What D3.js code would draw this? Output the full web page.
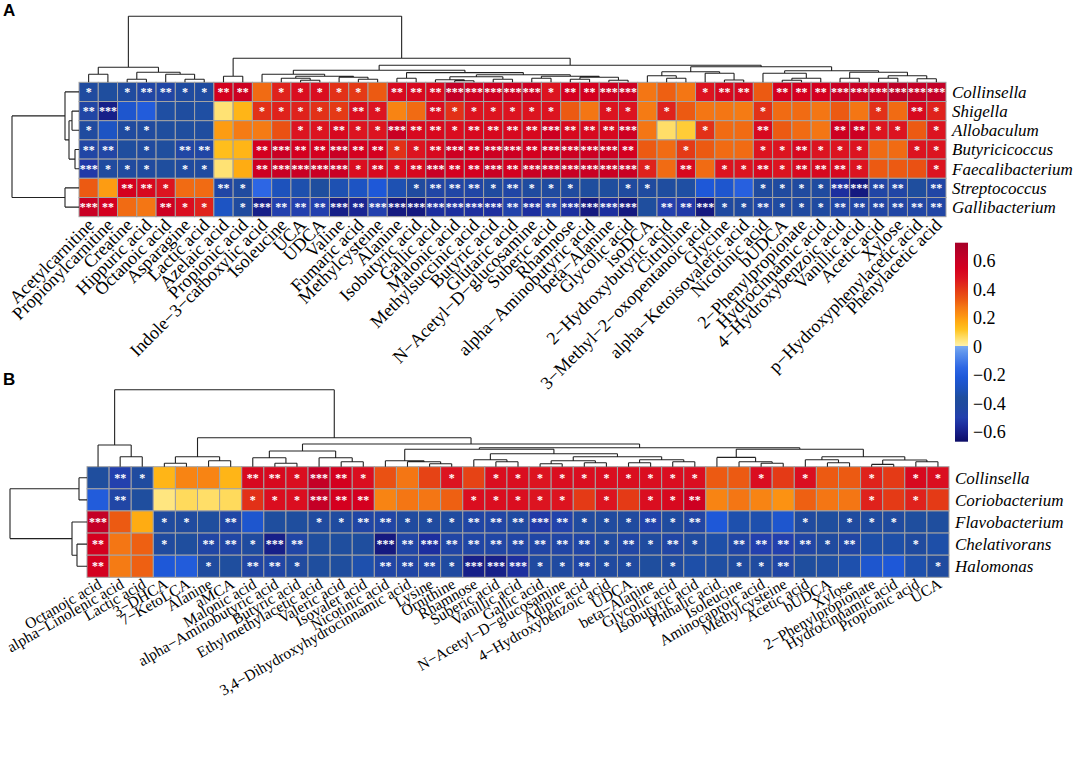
<!DOCTYPE html>
<html><head><meta charset="utf-8">
<script src="https://cdn.jsdelivr.net/npm/d3@7"></script>
<style>body{margin:0;background:#fff}svg{display:block}</style>
</head><body>
<svg id="c" width="1084" height="772"></svg>
<script>
// ---------- DATA ----------
const rowsA = ["Collinsella","Shigella","Allobaculum","Butyricicoccus","Faecalibacterium","Streptococcus","Gallibacterium"];
const colsA = ["Acetylcarnitine","Propionylcarnitine","Creatine","Hippuric acid","Octanoic acid","Asparagine","Lactic acid","Azelaic acid","Propionic acid","Indole\u22123\u2212carboxylic acid","Isoleucine","UCA","UDCA","Valine","Fumaric acid","Methylcysteine","Alanine","Isobutyric acid","Gallic acid","Malonic acid","Methylsuccinic acid","Butyric acid","Glutaric acid","N\u2212Acetyl\u2212D\u2212glucosamine","Suberic acid","Rhamnose","alpha\u2212Aminobutyric acid","beta\u2212Alanine","Glycolic acid","isoDCA","2\u2212Hydroxybutyric acid","Citrulline","3\u2212Methyl\u22122\u2212oxopentanoic acid","Glycine","alpha\u2212Ketoisovaleric acid","Nicotinic acid","bUDCA","2\u2212Phenylpropionate","Hydrocinnamic acid","4\u2212Hydroxybenzoic acid","Vanillic acid","Acetic acid","Xylose","p\u2212Hydroxyphenylacetic acid","Phenylacetic acid"];
const valuesA = [
 [-0.40,-0.36,-0.40,-0.45,-0.45,-0.40,-0.40,0.55,0.58,0.30, 0.45,0.50,0.50,0.42,0.40,0.33,0.52,0.52,0.52,0.62, 0.58,0.58,0.58,0.58,0.48,0.55,0.55,0.58,0.58,0.28, 0.32,0.28,0.48,0.52,0.52,0.33,0.55,0.55,0.55,0.60, 0.60,0.60,0.65,0.62,0.62],
 [-0.45,-0.60,-0.25,-0.20,-0.35,-0.38,-0.35,0.05,0.15,0.42, 0.45,0.45,0.42,0.40,0.50,0.48,0.25,0.30,0.50,0.42, 0.48,0.48,0.48,0.48,0.48,0.33,0.28,0.48,0.48,0.27, 0.45,0.33,0.28,0.28,0.27,0.42,0.30,0.30,0.28,0.33, 0.28,0.42,0.30,0.52,0.45],
 [-0.40,-0.28,-0.40,-0.40,-0.36,-0.36,-0.38,0.20,0.27,0.27, 0.35,0.48,0.48,0.52,0.48,0.48,0.60,0.52,0.52,0.50, 0.52,0.52,0.52,0.52,0.58,0.52,0.52,0.52,0.58,0.28, 0.06,0.10,0.42,0.30,0.30,0.52,0.33,0.30,0.28,0.58, 0.58,0.48,0.48,0.33,0.48],
 [-0.45,-0.45,-0.36,-0.40,-0.36,-0.45,-0.45,0.13,0.15,0.55, 0.60,0.55,0.55,0.60,0.55,0.55,0.42,0.48,0.52,0.58, 0.55,0.58,0.58,0.55,0.58,0.58,0.58,0.58,0.55,0.33, 0.30,0.40,0.33,0.30,0.30,0.48,0.48,0.52,0.48,0.48, 0.48,0.30,0.30,0.48,0.48],
 [-0.52,-0.40,-0.40,-0.40,-0.36,-0.40,-0.40,0.05,0.17,0.58, 0.60,0.60,0.60,0.60,0.50,0.52,0.50,0.52,0.60,0.55, 0.55,0.60,0.55,0.60,0.60,0.60,0.60,0.60,0.60,0.45, 0.30,0.52,0.30,0.48,0.48,0.52,0.48,0.52,0.52,0.52, 0.48,0.33,0.33,0.35,0.48],
 [0.33,0.20,0.55,0.52,0.48,0.30,0.30,-0.45,-0.40,-0.15, -0.30,-0.33,-0.36,-0.32,-0.28,-0.22,-0.32,-0.40,-0.45,-0.45, -0.45,-0.40,-0.45,-0.40,-0.40,-0.40,-0.36,-0.36,-0.40,-0.40, -0.38,-0.35,-0.22,-0.25,-0.18,-0.40,-0.40,-0.40,-0.40,-0.55, -0.62,-0.45,-0.45,-0.36,-0.45],
 [0.60,0.55,0.30,0.28,0.58,0.50,0.45,-0.28,-0.40,-0.60, -0.50,-0.50,-0.50,-0.60,-0.58,-0.50,-0.62,-0.62,-0.55,-0.55, -0.55,-0.55,-0.48,-0.55,-0.48,-0.55,-0.62,-0.55,-0.62,-0.36, -0.50,-0.52,-0.62,-0.42,-0.42,-0.45,-0.42,-0.42,-0.42,-0.45, -0.45,-0.45,-0.45,-0.45,-0.45]
];
const starsA = [
 [1,0,1,2,2,1,1,2,2,0, 1,1,1,1,1,0,2,2,2,3, 3,3,3,3,1,2,2,3,3,0, 0,0,1,2,2,0,2,2,2,3, 3,3,3,3,3],
 [2,3,0,0,0,0,0,0,0,1, 1,1,1,1,2,1,0,0,2,1, 1,1,1,1,1,0,0,1,1,0, 1,0,0,0,0,1,0,0,0,0, 0,1,0,2,1],
 [1,0,1,1,0,0,0,0,0,0, 0,1,1,2,1,1,3,2,2,1, 2,2,2,2,3,2,2,2,3,0, 0,0,1,0,0,2,0,0,0,2, 2,1,1,0,1],
 [2,2,0,1,0,2,2,0,0,2, 3,2,2,3,2,2,1,1,2,3, 2,3,3,2,3,3,3,3,2,0, 0,1,0,0,0,1,1,2,1,1, 1,0,0,1,1],
 [3,1,1,1,0,1,1,0,0,2, 3,3,3,3,1,2,1,2,3,2, 2,3,2,3,3,3,3,3,3,1, 0,2,0,1,1,2,1,2,2,2, 1,0,0,0,1],
 [0,0,2,2,1,0,0,2,1,0, 0,0,0,0,0,0,0,1,2,2, 2,1,2,1,1,1,0,0,1,1, 0,0,0,0,0,1,1,1,1,3, 3,2,2,0,2],
 [3,2,0,0,2,1,1,0,1,3, 2,2,2,3,2,3,3,3,3,3, 3,3,2,3,2,3,3,3,3,0, 2,2,3,1,1,2,1,1,1,2, 2,2,2,2,2]
];
// dendrogram merges: [height, left, right], leaves = index
const colTreeA = [66,
  [15, [8,0,1], [10, [3,2,3], [8,4,[3,5,6]]]],
  [24, [6,7,8],
    [17,
      [12,
        [8, 9, [6, [4,10,[2,11,12]], [5,13,[3,14,15]]]],
        [9.7, [4,16,17],
          [7.5, [5.5, [2.5,18,[1.5,19,20]], [3,21,22]],
                [6, [4,23,24], [5, [3,25,26], [2,27,28]]]]]],
      [15.6,
        [10.6, [6.6,29,[4,30,31]], [9,32,[2.3,33,34]]],
        [11.5, [9,35,[4,[2,36,37],38]], [10,[4,39,40],[6.5,[4,41,42],[3.5,43,44]]]]]]]];
const rowTreeA = [67, [14, 0, [10, [7,1,2], [4,3,4]]], [14, 5, 6]];

const rowsB = ["Collinsella","Coriobacterium","Flavobacterium","Chelativorans","Halomonas"];
const colsB = ["Octanoic acid","alpha\u2212Linolenic acid","Lactic acid","3\u2212DHCA","7\u2212KetoLCA","Alanine","aMCA","Malonic acid","alpha\u2212Aminobutyric acid","Butyric acid","Ethylmethylacetic acid","Valeric acid","Isovaler acid","Nicotinic acid","3,4\u2212Dihydroxyhydrocinnamic acid","Lysine","Ornithine","Rhamnose","Suberic acid","Vanillic acid","Gallic acid","N\u2212Acetyl\u2212D\u2212glucosamine","Adipic acid","4\u2212Hydroxybenzoic acid","UDCA","beta\u2212Alanine","Glycolic acid","Isobutyric acid","Phthalic acid","Isoleucine","Aminocaproic acid","Methylcysteine","Acetic acid","bUDCA","Xylose","2\u2212Phenylpropionate","Hydrocinnamic acid","Propionic acid","UCA"];
const valuesB = [
 [-0.36,-0.50,-0.40,0.15,0.25,0.25,0.15,0.52,0.52,0.50, 0.62,0.55,0.50,0.35,0.28,0.38,0.48,0.38,0.50,0.50, 0.48,0.50,0.50,0.50,0.50,0.50,0.50,0.50,0.33,0.33, 0.50,0.40,0.50,0.33,0.33,0.45,0.40,0.52,0.50],
 [-0.20,-0.45,-0.36,0.04,0.07,0.06,0.07,0.42,0.50,0.50, 0.62,0.55,0.55,0.25,0.28,0.28,0.32,0.50,0.50,0.50, 0.48,0.48,0.40,0.48,0.40,0.50,0.52,0.58,0.25,0.28, 0.25,0.22,0.32,0.28,0.28,0.45,0.40,0.45,0.40],
 [0.62,0.33,0.17,-0.40,-0.40,-0.36,-0.45,-0.25,-0.36,-0.36, -0.40,-0.40,-0.45,-0.45,-0.40,-0.40,-0.40,-0.45,-0.45,-0.42, -0.52,-0.48,-0.40,-0.40,-0.40,-0.48,-0.40,-0.45,-0.22,-0.33, -0.33,-0.25,-0.40,-0.36,-0.40,-0.40,-0.40,-0.36,-0.36],
 [0.55,0.28,0.32,-0.40,-0.36,-0.45,-0.45,-0.40,-0.60,-0.45, -0.36,-0.36,-0.36,-0.62,-0.45,-0.55,-0.45,-0.45,-0.45,-0.45, -0.45,-0.45,-0.45,-0.40,-0.45,-0.40,-0.45,-0.40,-0.34,-0.45, -0.50,-0.50,-0.45,-0.40,-0.45,-0.34,-0.34,-0.40,-0.34],
 [0.55,0.27,0.32,-0.22,-0.20,-0.40,-0.36,-0.45,-0.45,-0.40, -0.36,-0.36,-0.33,-0.45,-0.45,-0.45,-0.42,-0.60,-0.60,-0.55, -0.42,-0.42,-0.45,-0.42,-0.42,-0.36,-0.40,-0.34,-0.35,-0.40, -0.40,-0.45,-0.36,-0.35,-0.33,-0.25,-0.22,-0.33,-0.40]
];
const starsB = [
 [0,2,1,0,0,0,0,2,2,1, 3,2,1,0,0,0,1,0,1,1, 1,1,1,1,1,1,1,1,0,0, 1,0,1,0,0,1,0,1,1],
 [0,2,0,0,0,0,0,1,1,1, 3,2,2,0,0,0,0,1,1,1, 1,1,0,1,0,1,1,2,0,0, 0,0,0,0,0,1,0,1,0],
 [3,0,0,1,1,0,2,0,0,0, 1,1,2,2,1,1,1,2,2,2, 3,2,1,1,1,2,1,2,0,0, 0,0,1,0,1,1,1,0,0],
 [2,0,0,1,0,2,2,1,3,2, 0,0,0,3,2,3,2,2,2,2, 2,2,2,1,2,1,2,1,0,2, 2,2,2,1,2,0,0,1,0],
 [2,0,0,0,0,1,0,2,2,1, 0,0,0,2,2,2,1,3,3,3, 1,1,2,1,1,0,1,0,0,1, 1,2,0,0,0,0,0,0,1]
];
const colTreeB = [77,
  [21.7, 0, [10,1,2]],
  [29, [10,[3.4,3,4],[6,5,6]],
    [22.7,
      [15.7, [9,7,[3.4,8,9]], [9,10,[5,11,12]]],
      [19,
        [17.5, [6,13,[5,14,[3,15,16]]],
               [13, [7,17,[5,18,19]], [10, [6,[3,20,21],[4,22,23]], [7,[4,24,25],[5,26,27]]]]],
        [17.4, [9.3,28,[5,29,[3.4,30,31]]], [10,[7,32,[4,33,34]],[6.7,[2.3,35,36],[5,37,38]]]]]]]];
const rowTreeB = [77, [8,0,1], [15, 2, [10,3,4]]];

const legendTicks = [-0.6,-0.4,-0.2,0,0.2,0.4,0.6];
const legendDomain = [-0.67, 0.73];

// ---------- COLOURS ----------
const colorStops = [
 [-0.68,"#0c0c66"],[-0.62,"#151a80"],[-0.56,"#1c2c9c"],[-0.50,"#2340ae"],[-0.42,"#204aa0"],
 [-0.36,"#1f4e9e"],[-0.30,"#1d52bc"],[-0.22,"#1e58d8"],[-0.15,"#2d66e4"],[-0.05,"#5a90ec"],
 [-0.0001,"#78a8f0"],[0,"#fff3b0"],[0.04,"#ffe680"],[0.08,"#ffd650"],[0.12,"#ffc21e"],
 [0.17,"#ffac12"],[0.22,"#fc9212"],[0.28,"#f47614"],[0.33,"#ec5a12"],[0.40,"#e43a16"],
 [0.48,"#dc1420"],[0.55,"#d4001f"],[0.62,"#c40026"],[0.73,"#a60028"]];
const color = d3.scaleLinear().domain(colorStops.map(d=>d[0])).range(colorStops.map(d=>d[1])).clamp(true);

const svg = d3.select("#c");
const serif = "'Liberation Serif','Times New Roman',serif";

function layout(node, pos){
  if (typeof node === "number") return {p: pos(node), h: 0};
  const A = layout(node[1], pos), B = layout(node[2], pos);
  return {p:(A.p+B.p)/2, h: node[0], kids:[A,B]};
}
function dendro(tree, pos, hScale, horizontal){
  const root = layout(tree, pos);
  const path = d3.path();
  (function walk(n){
    if(!n.kids) return;
    const [a,b] = n.kids;
    const seg=(p1,h1,p2,h2)=>{
      if(horizontal){ path.moveTo(p1,hScale(h1)); path.lineTo(p2,hScale(h2)); }
      else { path.moveTo(hScale(h1),p1); path.lineTo(hScale(h2),p2); }
    };
    seg(a.p,a.h,a.p,n.h); seg(b.p,b.h,b.p,n.h); seg(a.p,n.h,b.p,n.h);
    walk(a); walk(b);
  })(root);
  svg.append("path").attr("d",path.toString()).attr("fill","none").attr("stroke","#222").attr("stroke-width",1.1);
}

function panel(cfg){
  const {rows, cols, values, stars, colTree, rowTree, x0, x1, y0, y1, topH, leftH, topMax, leftMax, starFs, labAngle, labFs} = cfg;
  const x = d3.scaleBand().domain(d3.range(cols.length)).range([x0,x1]);
  const y = d3.scaleBand().domain(d3.range(rows.length)).range([y0,y1]);
  const g = svg.append("g");
  values.forEach((row,i)=>row.forEach((v,j)=>{
    g.append("rect").attr("x",x(j)).attr("y",y(i)).attr("width",x.bandwidth()).attr("height",y.bandwidth())
     .attr("fill",color(v)).attr("stroke","#a3a3a3").attr("stroke-width",1);
  }));
  stars.forEach((row,i)=>row.forEach((s,j)=>{
    if(!s) return;
    g.append("text").attr("x",x(j)+x.bandwidth()/2).attr("y",y(i)+y.bandwidth()/2+4)
     .attr("text-anchor","middle").attr("fill","#fff").attr("font-family",serif)
     .attr("font-size",starFs).attr("font-weight","bold").text("*".repeat(s));
  }));
  dendro(colTree, j=>x(j)+x.bandwidth()/2, d3.scaleLinear().domain([0,topMax]).range([y0, y0-topH]), true);
  dendro(rowTree, i=>y(i)+y.bandwidth()/2, d3.scaleLinear().domain([0,leftMax]).range([x0, x0-leftH]), false);
  g.selectAll(".rl").data(rows).join("text")
   .attr("x",x1+6).attr("y",(d,i)=>y(i)+y.bandwidth()/2).attr("dy","0.35em")
   .attr("font-family",serif).attr("font-style","italic").attr("font-size",17).text(d=>d);
  g.selectAll(".cl").data(cols).join("text")
   .attr("transform",(d,j)=>`translate(${x(j)+x.bandwidth()/2+2},${y1+5}) rotate(${-labAngle})`)
   .attr("text-anchor","end").attr("dy","0.35em")
   .attr("font-family",serif).attr("font-size",labFs).text(d=>d);
}

panel({rows:rowsA, cols:colsA, values:valuesA, stars:starsA, colTree:colTreeA, rowTree:rowTreeA,
  x0:79, x1:946, y0:82.3, y1:216.7, topH:66, leftH:67, topMax:66, leftMax:67, starFs:12, labAngle:45, labFs:18});
panel({rows:rowsB, cols:colsB, values:valuesB, stars:starsB, colTree:colTreeB, rowTree:rowTreeB,
  x0:87, x1:949, y0:466.7, y1:577.3, topH:77, leftH:77, topMax:77, leftMax:77, starFs:12, labAngle:30, labFs:15.5});

svg.append("text").attr("x",3).attr("y",16).attr("font-family","'Liberation Sans',Arial,sans-serif")
  .attr("font-weight","bold").attr("font-size",17).text("A");
svg.append("text").attr("x",3).attr("y",385).attr("font-family","'Liberation Sans',Arial,sans-serif")
  .attr("font-weight","bold").attr("font-size",17).text("B");

// legend
const ly = d3.scaleLinear().domain(legendDomain).range([441.7, 242.7]);
const defs = svg.append("defs");
const grad = defs.append("linearGradient").attr("id","lg").attr("x1",0).attr("y1",1).attr("x2",0).attr("y2",0);
const span = legendDomain[1]-legendDomain[0];
colorStops.forEach(([v,c])=>{
  const off = Math.max(0,Math.min(1,(v-legendDomain[0])/span));
  grad.append("stop").attr("offset",off).attr("stop-color",c);
});
svg.append("rect").attr("x",955).attr("y",ly(legendDomain[1])).attr("width",13)
  .attr("height",ly(legendDomain[0])-ly(legendDomain[1])).attr("fill","url(#lg)");
svg.selectAll(".lt").data(legendTicks).join("text")
  .attr("x",973).attr("y",d=>ly(d)).attr("dy","0.35em").attr("font-family",serif).attr("font-size",18)
  .text(d=>d===0?"0":d3.format(".1f")(d));
</script>
</body></html>
